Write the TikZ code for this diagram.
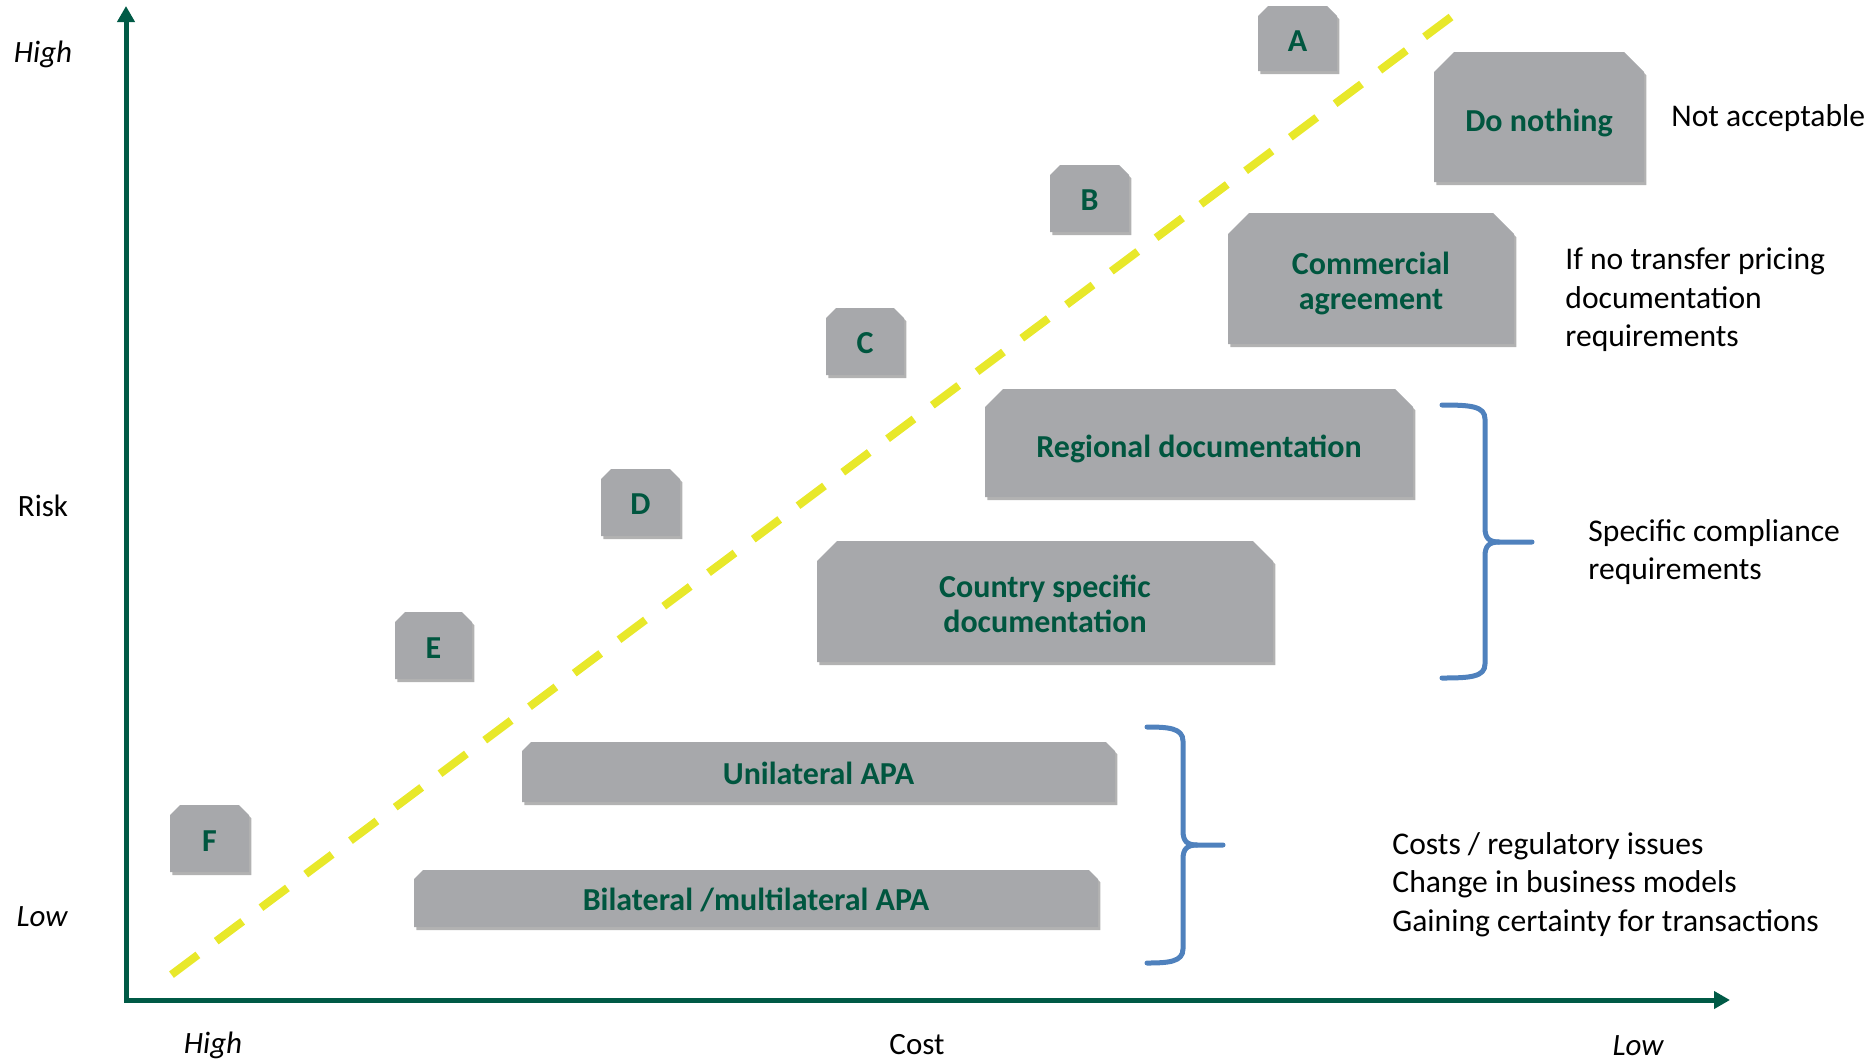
\documentclass[tikz,border=0pt]{standalone}
\usepackage{fontspec}
\setmainfont{Carlito}
\usetikzlibrary{arrows.meta,shadows}

\definecolor{axisgreen}{HTML}{005A46}
\definecolor{textgreen}{HTML}{00563F}
\definecolor{boxgray}{HTML}{A7A8AB}
\definecolor{braceblue}{HTML}{4F81BD}
\definecolor{lineyellow}{HTML}{E8E82A}

\tikzset{
  snipfill/.style={fill=boxgray,
    drop shadow={shadow xshift=1.2pt, shadow yshift=-1.6pt, opacity=0.3, fill=black}},
  boxtext/.style={text=textgreen, font=\fontsize{16}{17.5}\selectfont\bfseries,
    align=center, inner sep=0pt},
  sidetext/.style={font=\fontsize{15.8}{19}\selectfont, inner sep=0pt, anchor=base west},
  axislabel/.style={font=\fontsize{15.5}{19}\selectfont\itshape, inner sep=0pt, anchor=base},
  axisline/.style={draw=axisgreen, line width=2.5pt,
    {Triangle[length=8pt,width=8.5pt]}-{Triangle[length=8pt,width=8.5pt]}},
  bracestroke/.style={draw=braceblue, line width=2.5pt, line cap=round, line join=round},
  diagline/.style={draw=lineyellow, line width=4pt, dash pattern=on 16.5pt off 11.45pt},
}

% box with the two top corners cut off:
% name, x1, y1, x2, y2, cut, text, vertical text offset
\newcommand\snipbox[8]{%
  \path[snipfill] (#2,{#3+#6}) -- ({#2+#6},#3) -- ({#4-#6},#3) -- (#4,{#3+#6})
    -- (#4,#5) -- (#2,#5) -- cycle;
  \node[boxtext] (#1) at ({(#2+#4)/2},{(#3+#5)/2+#8}) {#7};}

% right curly brace: name, x of ends, x of spine, x of tip, y top, y tip, y bottom
\newcommand\curlybrace[7]{%
  \coordinate (#1) at (#4,#6);
  \draw[bracestroke] (#2,#5) .. controls ({#3-15},#5) and (#3,{#5+1}) .. (#3,{#5+14})
    -- (#3,{#6-14}) .. controls (#3,{#6-4}) and ({#3+4},#6) .. ({#3+14},#6) -- (#1);
  \draw[bracestroke] ({#3+14},#6) .. controls ({#3+4},#6) and (#3,{#6+4}) .. (#3,{#6+14})
    -- (#3,{#7-14}) .. controls (#3,{#7-1}) and ({#3-15},#7) .. (#2,#7);}

\begin{document}
\begin{tikzpicture}[x=0.5pt,y=-0.5pt]
\useasboundingbox (0,0) rectangle (1875,1062);

% axes
\coordinate (ytop) at (126,6);
\coordinate (origin) at (126,1000);
\coordinate (xend) at (1730,1000);
\draw[axisline] (ytop) |- (xend);

% axis labels
\node[axislabel] (riskhigh) at (43,62) {High};
\node[axislabel, font=\fontsize{15.5}{19}\selectfont] (risk) at (43,516) {Risk};
\node[axislabel] (risklow) at (42,926) {Low};
\node[axislabel] (costhigh) at (213,1053) {High};
\node[axislabel, font=\fontsize{15.5}{19}\selectfont] (cost) at (917,1054) {Cost};
\node[axislabel] (costlow) at (1638,1055) {Low};

% dashed diagonal
\coordinate (dtop) at (1451,17);
\coordinate (dbot) at (171,975);
\draw[diagline] (dtop) -- (dbot);

% letter boxes
\snipbox{A}{1258}{6}{1337}{71}{10}{A}{2.5}
\snipbox{B}{1050}{165}{1129}{232}{10}{B}{1.5}
\snipbox{C}{826}{308}{904}{375}{10}{C}{1.5}
\snipbox{D}{601}{469}{680}{536}{10}{D}{1.5}
\snipbox{E}{395}{612}{472}{679}{10}{E}{2.5}
\snipbox{F}{170}{805}{249}{872}{10}{F}{2.5}

% option boxes
\snipbox{nothing}{1434}{52}{1644}{182}{20}{Do nothing}{6}
\snipbox{commercial}{1228}{213}{1514}{344}{21}{Commercial\\agreement}{5}
\snipbox{regional}{985}{389}{1413}{497}{18}{Regional documentation}{6}
\snipbox{country}{817}{541}{1273}{662}{20}{Country specific\\documentation}{2.5}
\snipbox{unilateral}{522}{742}{1115}{802}{9}{Unilateral APA}{1.5}
\snipbox{bilateral}{414}{870}{1098}{927}{9}{Bilateral /multilateral APA}{1.5}

% braces
\curlybrace{brupper}{1442}{1485}{1532}{405}{542}{678}
\curlybrace{brlower}{1147}{1183}{1223}{727}{845}{963}

% side comments
\node[sidetext] (na) at (1671,126) {Not acceptable};
\node[sidetext] (tpa) at (1565,269) {If no transfer pricing};
\node[sidetext] (tpb) at (1565,308) {documentation};
\node[sidetext] (tpc) at (1565,346) {requirements};
\node[sidetext] (sca) at (1588,541) {Specific compliance};
\node[sidetext] (scb) at (1588,579) {requirements};
\node[sidetext] (cia) at (1392,854) {Costs / regulatory issues};
\node[sidetext] (cib) at (1392,892) {Change in business models};
\node[sidetext] (cic) at (1392,931) {Gaining certainty for transactions};
\end{tikzpicture}
\end{document}
